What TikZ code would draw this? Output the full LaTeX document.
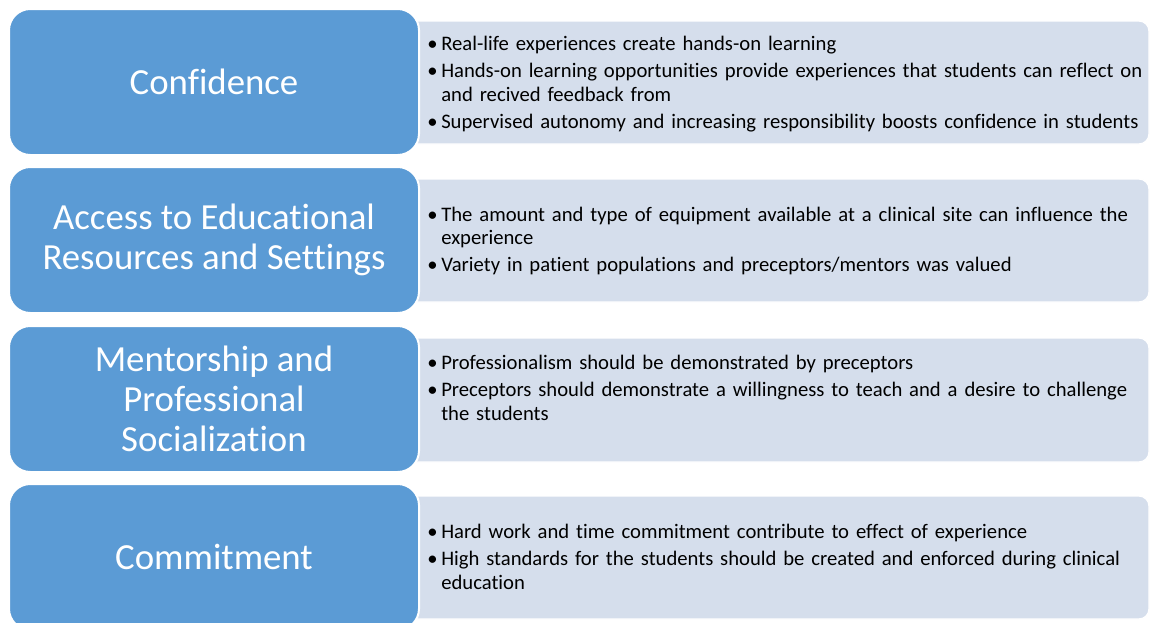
\documentclass[tikz,border=0pt]{standalone}
\usepackage{fontspec}
\setmainfont{Carlito}[Ligatures={NoCommon}]
\definecolor{boxblue}{RGB}{91,155,213}
\definecolor{lightbox}{RGB}{213,222,236}
\newcommand\bitem[1]{\hangindent=10.5pt\hangafter=1\noindent\makebox[10.5pt][l]{\textbullet}#1\par}
\begin{document}
\begin{tikzpicture}[x=0.75pt,y=-0.75pt,
  title/.style={fill=boxblue, draw=white, line width=1.5pt, rounded corners=16pt,
    minimum width=307.5pt, minimum height=109.5pt, text=white, align=center, inner sep=0pt,
    font=\fontsize{27.6}{30}\selectfont},
  detail/.style={fill=lightbox, draw=white, line width=1pt, rounded corners=7.5pt},
  bullets/.style={anchor=west, inner sep=0pt, text width=545pt, align=left,
    font=\fontsize{15.5}{17.7}\selectfont\setlength{\parskip}{2.6pt}}]
\useasboundingbox (0,0) rectangle (1150,622);
% detail panels
\path[detail] (380,21) rectangle (1149,144);
\path[detail] (380,179) rectangle (1149,302);
\path[detail] (380,338) rectangle (1149,462);
\path[detail] (380,496) rectangle (1149,619);
% headings
\node[title] (t1) at (214,82) {Confidence};
\node[title] (t2) at (214,240) {Access to Educational\\Resources and Settings};
\node[title] (t3) at (214,399) {Mentorship and\\Professional\\Socialization};
\node[title] (t4) at (214,557) {Commitment};
% bullet texts
\node[bullets] (b1) at (427,84) {%
\bitem{Real-life experiences create hands-on learning}
\bitem{Hands-on learning opportunities provide experiences that students can reflect on\newline and recived feedback from}
\bitem{Supervised autonomy and increasing responsibility boosts confidence in students}};
\node[bullets] (b2) at (427,241) {%
\bitem{The amount and type of equipment available at a clinical site can influence the\newline experience}
\bitem{Variety in patient populations and preceptors/mentors was valued}};
\node[bullets] (b3) at (427,388) {%
\bitem{Professionalism should be demonstrated by preceptors}
\bitem{Preceptors should demonstrate a willingness to teach and a desire to challenge\newline the students}};
\node[bullets] (b4) at (427,557) {%
\bitem{Hard work and time commitment contribute to effect of experience}
\bitem{High standards for the students should be created and enforced during clinical\newline education}};
\end{tikzpicture}
\end{document}
